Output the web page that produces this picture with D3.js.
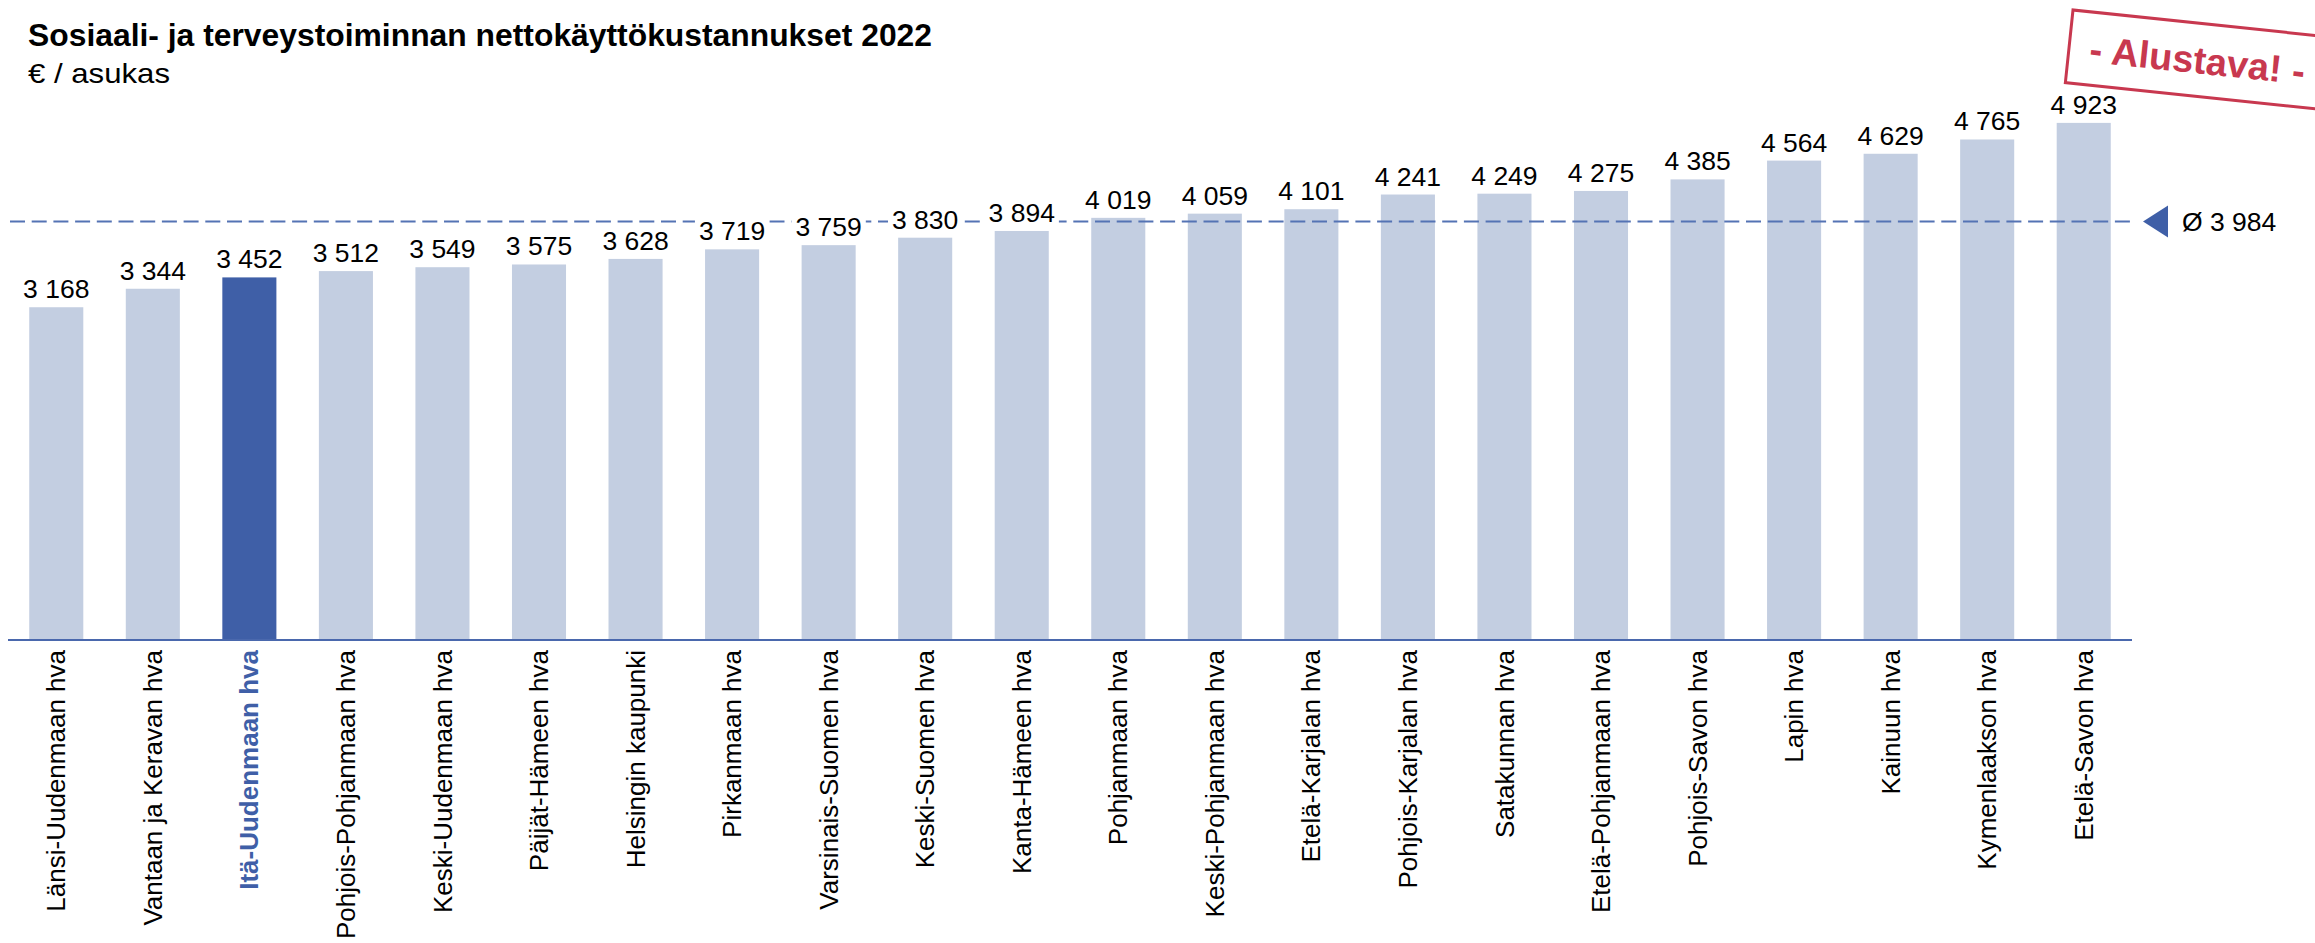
<!DOCTYPE html>
<html>
<head>
<meta charset="utf-8">
<title>Sosiaali- ja terveystoiminnan nettokäyttökustannukset 2022</title>
<style>
  html, body { margin: 0; padding: 0; background: #fff; }
  svg { display: block; font-family: "Liberation Sans", Arial, sans-serif; }
</style>
</head>
<body>
<script src="https://cdn.jsdelivr.net/npm/d3@7/dist/d3.min.js"></script>
<script>

// data
var regions = ["Länsi-Uudenmaan hva", "Vantaan ja Keravan hva", "Itä-Uudenmaan hva",
  "Pohjois-Pohjanmaan hva", "Keski-Uudenmaan hva", "Päijät-Hämeen hva", "Helsingin kaupunki",
  "Pirkanmaan hva", "Varsinais-Suomen hva", "Keski-Suomen hva", "Kanta-Hämeen hva",
  "Pohjanmaan hva", "Keski-Pohjanmaan hva", "Etelä-Karjalan hva", "Pohjois-Karjalan hva",
  "Satakunnan hva", "Etelä-Pohjanmaan hva", "Pohjois-Savon hva", "Lapin hva",
  "Kainuun hva", "Kymenlaakson hva", "Etelä-Savon hva"];
var costs = [3168, 3344, 3452, 3512, 3549, 3575, 3628, 3719, 3759, 3830, 3894,
  4019, 4059, 4101, 4241, 4249, 4275, 4385, 4564, 4629, 4765, 4923];
var average = 3984;
var highlight = "Itä-Uudenmaan hva";

var width = 2315;
var height = 943;

var lightBlue = "#c3cee1";
var darkBlue = "#3f5fa7";
var stampRed = "#c8384f";

// finnish number format: space as thousands separator
var fmt = d3.formatLocale({ decimal: ",", thousands: "\u00a0", grouping: [3], currency: ["", " €"] }).format(",d");

var svg = d3.select("body").append("svg")
  .attr("width", width)
  .attr("height", height);

var x = d3.scaleBand()
  .domain(regions)
  .range([8, 2132])
  .paddingInner(0.44)
  .paddingOuter(0.22);

var y = d3.scaleLinear()
  .domain([0, 5000])
  .range([640, 114.8]);

// title
svg.append("text")
  .attr("x", 28).attr("y", 46)
  .attr("font-size", 31).attr("font-weight", "bold")
  .attr("textLength", 904).attr("lengthAdjust", "spacingAndGlyphs")
  .text("Sosiaali- ja terveystoiminnan nettokäyttökustannukset 2022");

svg.append("text")
  .attr("x", 28).attr("y", 83)
  .attr("font-size", 28)
  .attr("textLength", 142).attr("lengthAdjust", "spacingAndGlyphs")
  .text("€ / asukas");

// bars
svg.append("g").selectAll("rect")
  .data(regions)
  .join("rect")
  .attr("x", function(d) { return x(d); })
  .attr("y", function(d, i) { return y(costs[i]); })
  .attr("width", x.bandwidth())
  .attr("height", function(d, i) { return y(0) - y(costs[i]); })
  .attr("fill", function(d) { return d == highlight ? darkBlue : lightBlue; });

// average line
svg.append("line")
  .attr("x1", 10).attr("x2", 2132)
  .attr("y1", y(average)).attr("y2", y(average))
  .attr("stroke", "#5473b4")
  .attr("stroke-width", 2)
  .attr("stroke-dasharray", "15,6.7");

var tipX = 2143;
svg.append("path")
  .attr("d", "M" + tipX + "," + y(average) + "L" + (tipX + 25) + "," + (y(average) - 16) +
    "L" + (tipX + 25) + "," + (y(average) + 16) + "Z")
  .attr("fill", darkBlue);

svg.append("text")
  .attr("x", 2182).attr("y", y(average) + 9)
  .attr("font-size", 26.5)
  .text("Ø " + fmt(average));

// value labels with white background
var labels = svg.append("g").selectAll("g")
  .data(regions)
  .join("g");

labels.append("rect").attr("fill", "#fff");

labels.append("text")
  .attr("x", function(d) { return x(d) + x.bandwidth() / 2; })
  .attr("y", function(d, i) { return y(costs[i]) - 9; })
  .attr("text-anchor", "middle")
  .attr("font-size", 26.5)
  .text(function(d, i) { return fmt(costs[i]); });

labels.each(function() {
  var g = d3.select(this);
  var b = g.select("text").node().getBBox();
  g.select("rect")
    .attr("x", b.x - 4).attr("y", b.y)
    .attr("width", b.width + 8).attr("height", b.height);
});

// axis baseline
svg.append("line")
  .attr("x1", 8).attr("x2", 2132)
  .attr("y1", 640).attr("y2", 640)
  .attr("stroke", "#4a68ad")
  .attr("stroke-width", 2);

// category labels
svg.append("g").selectAll("text")
  .data(regions)
  .join("text")
  .attr("transform", function(d) { return "translate(" + (x(d) + x.bandwidth() / 2) + ",650) rotate(-90)"; })
  .attr("text-anchor", "end")
  .attr("dy", "0.35em")
  .attr("font-size", 26)
  .attr("font-weight", function(d) { return d == highlight ? "bold" : "normal"; })
  .attr("fill", function(d) { return d == highlight ? darkBlue : "#000"; })
  .text(function(d) { return d; });

// draft stamp
var stamp = svg.append("g")
  .attr("transform", "translate(2073,10) rotate(6)");

stamp.append("rect")
  .attr("width", 264).attr("height", 73)
  .attr("fill", "#fff")
  .attr("stroke", stampRed)
  .attr("stroke-width", 3);

stamp.append("text")
  .attr("x", 129).attr("y", 50)
  .attr("text-anchor", "middle")
  .attr("font-size", 38).attr("font-weight", "bold")
  .attr("fill", stampRed)
  .text("- Alustava! -");

</script>
</body>
</html>
